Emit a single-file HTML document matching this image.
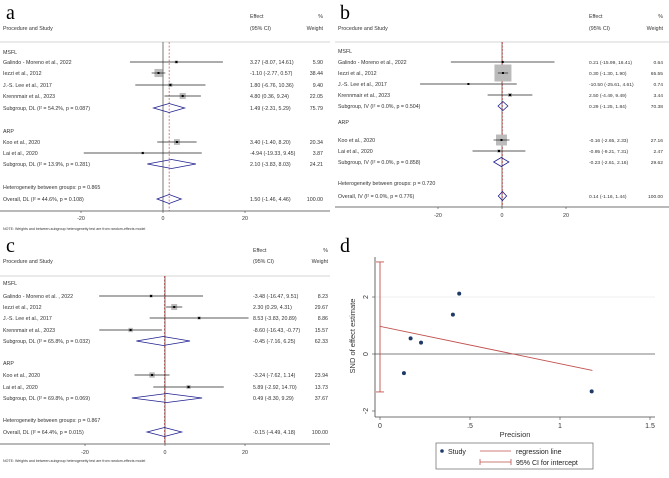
<!DOCTYPE html>
<html><head><meta charset="utf-8"><style>
body{margin:0;background:#fff;}
svg{display:block;font-family:"Liberation Sans",sans-serif;}
</style></head><body>
<svg id="fig" width="669" height="478" viewBox="0 0 669 478"></svg>
<script>
// ---- Panel a data ----
const aStudies=["Galindo - Moreno et al., 2022","Iezzi et al., 2012","J.-S. Lee et al., 2017","Krennmair et al., 2023","Koo et al., 2020","Lai et al., 2020"];
const aEst=[3.27,-1.10,1.80,4.80,3.40,-4.94];
const aLo=[-8.07,-2.77,-6.76,0.36,-1.40,-19.33];
const aHi=[14.61,0.57,10.36,9.24,8.20,9.45];
const aW=[5.90,38.44,9.40,22.05,20.34,3.87];
const aSub=[[1.49,-2.31,5.29,75.79],[2.10,-3.83,8.03,24.21],[1.50,-1.46,4.46,100.00]];
const aSubLbl=["Subgroup, DL (I² = 54.2%, p = 0.087)","Subgroup, DL (I² = 13.9%, p = 0.281)","Overall, DL (I² = 44.6%, p = 0.108)"];
const aHet="Heterogeneity between groups: p = 0.865";
// ---- Panel b data ----
const bStudies=["Galindo - Moreno et al., 2022","Iezzi et al., 2012","J.-S. Lee et al., 2017","Krennmair et al., 2023","Koo et al., 2020","Lai et al., 2020"];
const bEst=[0.21,0.30,-10.50,2.50,-0.16,-0.95];
const bLo=[-15.99,-1.30,-25.61,-4.49,-2.65,-9.21];
const bHi=[16.41,1.90,4.61,9.49,2.33,7.31];
const bW=[0.64,65.55,0.74,3.44,27.16,2.47];
const bSub=[[0.29,-1.25,1.84,70.38],[-0.23,-2.61,2.16,29.62],[0.14,-1.16,1.44,100.00]];
const bSubLbl=["Subgroup, IV (I² = 0.0%, p = 0.504)","Subgroup, IV (I² = 0.0%, p = 0.858)","Overall, IV (I² = 0.0%, p = 0.776)"];
const bHet="Heterogeneity between groups: p = 0.720";
// ---- Panel c data ----
const cStudies=["Galindo - Moreno et al. , 2022","Iezzi et al., 2012","J.-S. Lee et al., 2017","Krennmair et al., 2023","Koo et al., 2020","Lai et al., 2020"];
const cEst=[-3.48,2.30,8.53,-8.60,-3.24,5.89];
const cLo=[-16.47,0.29,-3.83,-16.43,-7.62,-2.92];
const cHi=[9.51,4.31,20.89,-0.77,1.14,14.70];
const cW=[8.23,29.67,8.86,15.57,23.94,13.73];
const cSub=[[-0.45,-7.16,6.25,62.33],[0.49,-8.30,9.29,37.67],[-0.15,-4.49,4.18,100.00]];
const cSubLbl=["Subgroup, DL (I² = 65.8%, p = 0.032)","Subgroup, DL (I² = 69.8%, p = 0.069)","Overall, DL (I² = 64.4%, p = 0.015)"];
const cHet="Heterogeneity between groups: p = 0.867";
const forestTicks=[-20,0,20];
// ---- Panel d data ----
const dPrec=[0.133,0.17,0.228,0.405,0.44,1.176];
const dSnd=[-0.67,0.55,0.40,1.38,2.12,-1.31];
const dInt=0.97, dSlope=-1.31, dLineEnd=1.18;
const dCI=[-1.33,3.23];
const dXTicks=[0,0.5,1,1.5];
const dXTickLbl=["0",".5","1","1.5"];
const dYTicks=[-2,0,2];

const NS="http://www.w3.org/2000/svg";
const svg=document.getElementById('fig');
function el(tag,attrs,parent,txt){const e=document.createElementNS(NS,tag);for(const k in attrs)e.setAttribute(k,attrs[k]);if(txt!==undefined)e.textContent=txt;(parent||svg).appendChild(e);return e;}
function f2(v){return (v<0?"-":"")+Math.abs(v).toFixed(2);}

function forest(cfg,studies,est,lo,hi,w,sub,subLbl,het,name){
  const g=el('g',{});
  
  
  const ox=cfg.ox, oy=cfg.oy, R=cfg.rows;
  const X=v=>ox+cfg.x0+v*cfg.sc;
  const T=(x,y,s,anchor,nm,sz)=>{const t=el('text',{x:x,y:y+2,'font-size':sz||5.3,fill:'#333','text-anchor':anchor||'start'},g,s);return t;};
  const lt=el('text',{x:ox+cfg.lx,y:oy+cfg.ly,'font-size':20,'font-family':'Liberation Serif, serif',fill:'#000'},g,cfg.letter);
  
  
  const vf=cfg.vf||5.3;
  T(ox+cfg.ex,oy+cfg.h1,"Effect",'start','effect-header');
  T(ox+cfg.wx,oy+cfg.h1,"%",'end','weight-header');
  T(ox+3,oy+cfg.h2,"Procedure and Study",'start','study-header');
  T(ox+cfg.ex,oy+cfg.h2,"(95% CI)",'start','ci-header');
  T(ox+cfg.wx,oy+cfg.h2,"Weight",'end','weight-header-2');
  el('line',{x1:ox,x2:ox+cfg.w,y1:oy+cfg.sep,y2:oy+cfg.sep,stroke:'#e4e4e4','stroke-width':1.5},g);
  el('line',{x1:X(0),x2:X(0),y1:oy+cfg.sep,y2:oy+cfg.axis,stroke:'#555','stroke-width':0.8},g);
  el('line',{x1:X(sub[2][0]),x2:X(sub[2][0]),y1:oy+cfg.sep,y2:oy+cfg.axis,stroke:'#c0504d','stroke-width':0.7,'stroke-dasharray':'2,1.5'},g);
  T(ox+3,oy+R[0],"MSFL",'start','group-label');
  T(ox+3,oy+R[6],"ARP",'start','group-label');
  const studyRows=[R[1],R[2],R[3],R[4],R[7],R[8]];
  for(let i=0;i<studies.length;i++){
    const y=oy+studyRows[i];
    T(ox+3,y,studies[i],'start','study-name');
    const s=cfg.k*Math.sqrt(w[i]);
    const b=el('rect',{x:X(est[i])-s/2,y:y-s/2,width:s,height:s,fill:'#bbb'},g);
    
    
    const l=el('line',{x1:X(lo[i]),x2:X(hi[i]),y1:y,y2:y,stroke:'#222','stroke-width':0.7},g);
    
    
    const d=el('rect',{x:X(est[i])-1,y:y-1,width:2,height:2,fill:'#000'},g);
    
    
    T(ox+cfg.ex,y,f2(est[i])+" ("+f2(lo[i])+", "+f2(hi[i])+")",'start','effect-value',vf);
    T(ox+cfg.wx,y,w[i].toFixed(2),'end','weight-value',vf);
  }
  const subRows=[R[5],R[9],R[11]];
  for(let j=0;j<3;j++){
    const y=oy+subRows[j],h=4.5;
    const p=el('polygon',{points:`${X(sub[j][1])},${y} ${X(sub[j][0])},${y-h} ${X(sub[j][2])},${y} ${X(sub[j][0])},${y+h}`,fill:'none',stroke:'#1f1f8f','stroke-width':0.8},g);
    
    
    T(ox+3,y,subLbl[j],'start','pooled-label');
    T(ox+cfg.ex,y,f2(sub[j][0])+" ("+f2(sub[j][1])+", "+f2(sub[j][2])+")",'start','effect-value',vf);
    T(ox+cfg.wx,y,sub[j][3].toFixed(2),'end','weight-value',vf);
  }
  T(ox+3,oy+R[10],het,'start','heterogeneity-text');
  el('line',{x1:ox,x2:ox+cfg.w,y1:oy+cfg.axis,y2:oy+cfg.axis,stroke:'#444','stroke-width':0.8},g);
  for(const t of forestTicks){
    el('line',{x1:X(t),x2:X(t),y1:oy+cfg.axis,y2:oy+cfg.axis+2,stroke:'#444','stroke-width':0.6},g);
    T(X(t),oy+cfg.tick,String(t),'middle','x-tick-label');
  }
  if(cfg.note) T(ox+3,oy+cfg.note,"NOTE: Weights and between-subgroup heterogeneity test are from random-effects model",'start','footnote',3.6);
}

forest({ox:0,oy:0,w:330,x0:163,sc:4.1,letter:'a',lx:6,ly:19,ex:250,wx:323,h1:16,h2:28,sep:42,
  rows:[52,62,73,85,96,108,131,142,153,164,187,199],axis:211,tick:218,note:228,k:1.3},
  aStudies,aEst,aLo,aHi,aW,aSub,aSubLbl,aHet,'forest-plot-a');
forest({ox:335,oy:0,w:334,x0:167,sc:3.2,letter:'b',lx:5,ly:19,ex:254,wx:328,h1:16,h2:28,sep:42,vf:4.9,
  rows:[51,62,73,84,95,106,122,140,151,162,183,196],axis:207,tick:215,note:0,k:2.1},
  bStudies,bEst,bLo,bHi,bW,bSub,bSubLbl,bHet,'forest-plot-b');
forest({ox:0,oy:235,w:330,x0:165,sc:4.0,letter:'c',lx:6,ly:17,ex:253,wx:328,h1:15,h2:26,sep:41,
  rows:[48,61,72,83,95,106,128,140,152,163,185,197],axis:209,tick:217,note:225,k:1.1},
  cStudies,cEst,cLo,cHi,cW,cSub,cSubLbl,cHet,'forest-plot-c');

// ---- Panel d ----
(function(){
  const g=el('g',{});
  
  
  const X=v=>380+v*180, Y=v=>354-v*28.5;
  const lt=el('text',{x:340,y:252,'font-size':20,'font-family':'Liberation Serif, serif'},g,'d');
  
  
  el('line',{x1:375,x2:655,y1:Y(2),y2:Y(2),stroke:'#eaeaea','stroke-width':0.8},g);
  el('line',{x1:375,x2:655,y1:Y(0),y2:Y(0),stroke:'#555','stroke-width':0.8},g);
  el('line',{x1:375,x2:375,y1:257,y2:417,stroke:'#444','stroke-width':0.8},g);
  el('line',{x1:375,x2:655,y1:417,y2:417,stroke:'#444','stroke-width':0.8},g);
  dYTicks.forEach(t=>{
    el('line',{x1:372,x2:375,y1:Y(t),y2:Y(t),stroke:'#444','stroke-width':0.6},g);
    const tx=el('text',{x:368,y:Y(t),'font-size':7,fill:'#333','text-anchor':'middle',transform:`rotate(-90 368 ${Y(t)})`},g,String(t));
    
    
  });
  dXTicks.forEach((t,i)=>{
    el('line',{x1:X(t),x2:X(t),y1:417,y2:420,stroke:'#444','stroke-width':0.6},g);
    const tx=el('text',{x:X(t),y:428,'font-size':7,fill:'#333','text-anchor':'middle'},g,dXTickLbl[i]);
    
    
  });
  const yl=el('text',{x:355,y:336,'font-size':7.5,fill:'#333','text-anchor':'middle',transform:'rotate(-90 355 336)'},g,'SND of effect estimate');
  
  
  const xl=el('text',{x:515,y:437,'font-size':7.5,fill:'#333','text-anchor':'middle'},g,'Precision');
  
  
  const ci=el('path',{d:`M${X(0)},${Y(dCI[0])}V${Y(dCI[1])}M${X(0)-4},${Y(dCI[0])}H${X(0)+4}M${X(0)-4},${Y(dCI[1])}H${X(0)+4}`,stroke:'#c0504d','stroke-width':0.9,fill:'none'},g);
  
  
  const rl=el('line',{x1:X(0),y1:Y(dInt),x2:X(dLineEnd),y2:Y(dInt+dSlope*dLineEnd),stroke:'#c0504d','stroke-width':0.9},g);
  
  
  dPrec.forEach((p,i)=>{
    const c=el('circle',{cx:X(p),cy:Y(dSnd[i]),r:2,fill:'#1f3a66'},g);
    
    
  });
  const lg=el('g',{},g);
  
  
  el('rect',{x:436,y:443,width:157,height:26,fill:'#fff',stroke:'#666','stroke-width':0.7},lg);
  el('circle',{cx:442,cy:451,r:1.8,fill:'#1f3a66'},lg);
  el('text',{x:448,y:454,'font-size':7,fill:'#222'},lg,'Study');
  el('line',{x1:480,x2:511,y1:451,y2:451,stroke:'#c0504d','stroke-width':0.8},lg);
  el('text',{x:516,y:454,'font-size':7,fill:'#222'},lg,'regression line');
  el('path',{d:'M480,462H511M480,459V465M511,459V465',stroke:'#c0504d','stroke-width':0.8,fill:'none'},lg);
  el('text',{x:516,y:465,'font-size':7,fill:'#222'},lg,'95% CI for intercept');
})();
</script>
</body></html>
